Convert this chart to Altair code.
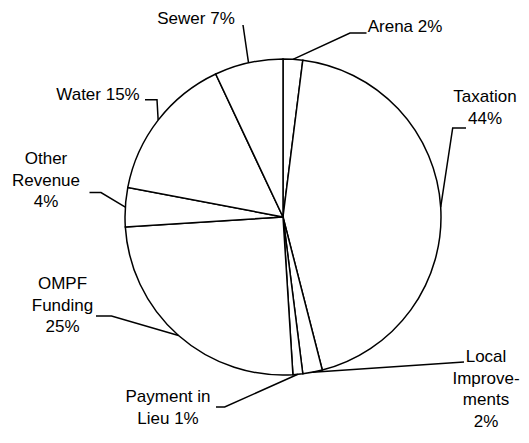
import math
import altair as alt
import pandas as pd

# ---- data ----
categories = ["Arena", "Taxation", "Local Improvements", "Payment in Lieu",
              "OMPF Funding", "Other Revenue", "Water", "Sewer"]
values = [2, 44, 2, 1, 25, 4, 15, 7]
label_texts = ["Arena 2%", "Taxation\n44%", "Local\nImprove-\nments\n2%",
               "Payment in\nLieu 1%", "OMPF\nFunding\n25%", "Other\nRevenue\n4%",
               "Water 15%", "Sewer 7%"]

# ---- layout (pixel positions inside the chart) ----
W, H = 513, 427
CX, CY, R = 275, 209, 158
# first-line centre (x, y) of each label, and leader-line points from the label towards the pie
label_layout = {
    "Arena":              dict(tx=397, ty=19, pts=[(358.5, 25), (342, 25)]),
    "Taxation":           dict(tx=477, ty=89, pts=[(458, 120), (444.7, 120)]),
    "Local Improvements": dict(tx=478, ty=349, pts=[(456, 354)]),
    "Payment in Lieu":    dict(tx=160, ty=389, pts=[(208, 399), (216.7, 399)]),
    "OMPF Funding":       dict(tx=54.5, ty=276, pts=[(88, 308), (103.5, 308)]),
    "Other Revenue":      dict(tx=38, ty=151, pts=[(81.5, 184.6), (93, 184.6)]),
    "Water":              dict(tx=90, ty=86.6, pts=[(137, 91.7), (149, 91.7)]),
    "Sewer":              dict(tx=188, ty=10.6, pts=[(235, 17)]),
}

total = sum(values)
pie_df = pd.DataFrame({"cat": categories, "value": values,
                       "idx": list(range(len(categories)))})

line_rows, text_rows = [], []
cum = 0.0
for cat, v, lab in zip(categories, values, label_texts):
    mid = (cum + v / 2) / total * 2 * math.pi
    cum += v
    ax = CX + R * math.sin(mid)
    ay = CY - R * math.cos(mid)
    lay = label_layout[cat]
    pts = lay["pts"] + [(ax, ay)]
    for i, (px, py) in enumerate(pts):
        line_rows.append({"cat": cat, "pt": i, "px": px, "py": py})
    text_rows.append({"cat": cat, "label": lab, "tx": lay["tx"], "ty": lay["ty"]})

lines_df = pd.DataFrame(line_rows)
text_df = pd.DataFrame(text_rows)

pie = alt.Chart(pie_df).mark_arc(
    radius=R, fill="white", stroke="black", strokeWidth=1.5
).encode(
    theta=alt.Theta("value:Q", stack=True),
    order=alt.Order("idx:Q"),
    x=alt.value(CX), y=alt.value(CY),
)

leaders = alt.Chart(lines_df).mark_line(
    color="black", strokeWidth=1.5
).encode(
    x=alt.X("px:Q", scale=None, axis=None),
    y=alt.Y("py:Q", scale=None, axis=None),
    detail="cat:N",
    order="pt:Q",
)

texts = alt.Chart(text_df).mark_text(
    font="Liberation Sans", fontSize=17, color="black",
    align="center", baseline="middle", lineBreak="\n", lineHeight=21.5
).encode(
    x=alt.X("tx:Q", scale=None, axis=None),
    y=alt.Y("ty:Q", scale=None, axis=None),
    text="label:N",
)

chart = alt.layer(pie, leaders, texts).properties(
    width=W, height=H, padding=0, autosize=alt.AutoSizeParams(type="none"),
    background="white",
).configure_view(stroke=None)

chart.save("out.html", embed_options={"renderer": "svg", "actions": False})
